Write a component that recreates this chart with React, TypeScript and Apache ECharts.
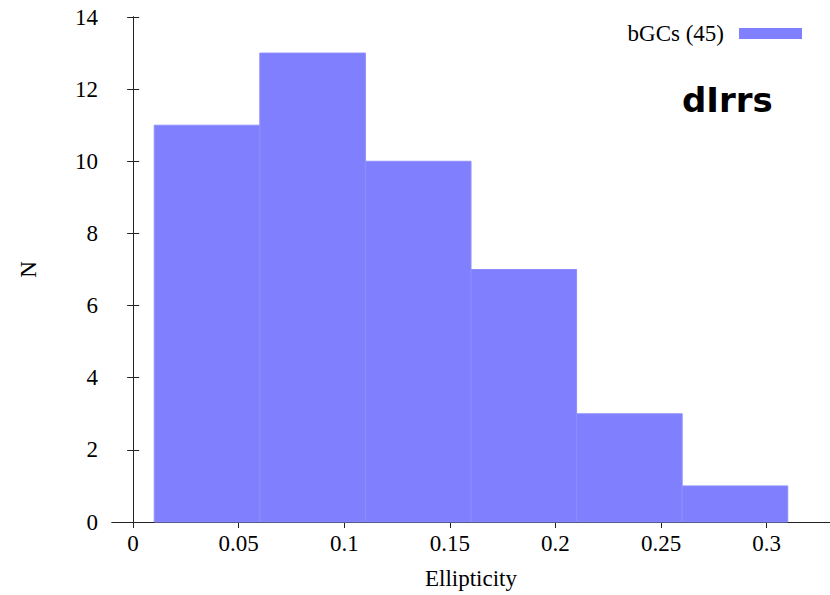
import React, { useEffect, useRef } from "react";
import * as echarts from "echarts";

// Histogram of ellipticities: bin left edges, bin width and counts
const binStarts = [0.01, 0.06, 0.11, 0.16, 0.21, 0.26];
const binWidth = 0.05;
const counts = [11, 13, 10, 7, 3, 1];

const xTicks = [0, 0.05, 0.1, 0.15, 0.2, 0.25, 0.3];
const seriesName = "bGCs (45)";
const panelLabel = "dIrrs";

const SERIF = "'Liberation Serif', 'Times New Roman', serif";
const AXIS_COLOR = "#222";
const BAR_COLOR = "#8080ff";

export default function App() {
  const ref = useRef<HTMLDivElement>(null);

  useEffect(() => {
    if (!ref.current) return;
    const chart = echarts.init(ref.current, null, { renderer: "svg" });

    const data = binStarts.map((x0, i) => [x0, x0 + binWidth, counts[i]]);

    const axisLine = { show: true, lineStyle: { color: AXIS_COLOR, width: 1 } };
    const tick = { show: true, inside: true, length: 6, lineStyle: { color: AXIS_COLOR, width: 1 } };
    const fmt = (v: number) => String(+Number(v).toFixed(2));

    chart.setOption({
      animation: false,
      backgroundColor: "#ffffff",
      grid: { left: 112, right: 0, top: 17, bottom: 72.5 },
      legend: {
        data: [{ name: seriesName, icon: "rect" }],
        right: 28,
        top: 22,
        padding: 0,
        align: "right",
        itemWidth: 63,
        itemHeight: 11,
        textStyle: { fontFamily: SERIF, fontSize: 23, color: "#000", padding: [0, 10, 0, 0] },
      },
      xAxis: [
        {
          type: "value",
          min: -0.01,
          max: 0.33,
          position: "bottom",
          axisLine,
          axisTick: { ...tick, customValues: xTicks },
          splitLine: { show: false },
          axisLabel: {
            customValues: xTicks,
            formatter: fmt,
            fontFamily: SERIF,
            fontSize: 23,
            color: "#000",
            margin: 10,
          },
          name: "Ellipticity",
          nameLocation: "middle",
          nameGap: 45,
          nameTextStyle: { fontFamily: SERIF, fontSize: 23, color: "#000" },
        },
        {
          type: "value",
          min: -0.01,
          max: 0.33,
          position: "top",
          axisLine,
          axisTick: { ...tick, customValues: xTicks },
          axisLabel: { show: false },
          splitLine: { show: false },
        },
      ],
      yAxis: [
        {
          type: "value",
          min: 0,
          max: 14,
          interval: 2,
          position: "left",
          axisLine,
          axisTick: tick,
          splitLine: { show: false },
          axisLabel: { fontFamily: SERIF, fontSize: 23, color: "#000", margin: 14 },
          name: "N",
          nameLocation: "middle",
          nameGap: 72,
          nameRotate: 90,
          nameTextStyle: { fontFamily: SERIF, fontSize: 23, color: "#000" },
        },
        {
          type: "value",
          min: 0,
          max: 14,
          interval: 2,
          position: "right",
          axisLine,
          axisTick: tick,
          axisLabel: { show: false },
          splitLine: { show: false },
        },
      ],
      series: [
        {
          name: seriesName,
          type: "custom",
          xAxisIndex: 0,
          yAxisIndex: 0,
          itemStyle: { color: BAR_COLOR },
          renderItem: (params: any, api: any) => {
            const x0 = api.value(0);
            const x1 = api.value(1);
            const y = api.value(2);
            const p0 = api.coord([x0, y]);
            const p1 = api.coord([x1, 0]);
            return {
              type: "rect",
              shape: { x: p0[0], y: p0[1], width: p1[0] - p0[0], height: p1[1] - p0[1] },
              style: { fill: BAR_COLOR, stroke: "#8d8dff", lineWidth: 1 },
            };
          },
          encode: { x: [0, 1], y: 2 },
          data,
        },
      ],
      graphic: [
        {
          type: "text",
          x: 682,
          y: 100,
          style: {
            text: panelLabel,
            font: "bold 34px 'DejaVu Sans', sans-serif",
            fill: "#000",
            verticalAlign: "middle",
          },
        },
      ],
    });

    return () => chart.dispose();
  }, []);

  return (
    <div
      ref={ref}
      style={{ position: "fixed", left: 0, top: 0, width: 830, height: 595, background: "#fff" }}
    />
  );
}
